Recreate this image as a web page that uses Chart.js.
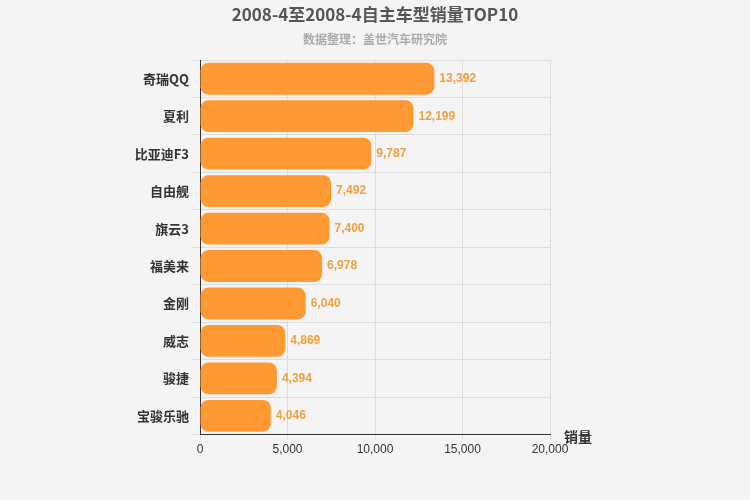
<!DOCTYPE html>
<html><head><meta charset="utf-8">
<script src="https://cdn.jsdelivr.net/npm/chart.js@4/dist/chart.umd.min.js"></script>
<style>html,body{margin:0;padding:0;background:#f4f4f4;}#wrap{width:750px;height:500px;}</style>
</head><body><div id="wrap"><canvas id="c" width="750" height="500"></canvas></div>
<script>
const categories = ["奇瑞QQ","夏利","比亚迪F3","自由舰","旗云3","福美来","金刚","威志","骏捷","宝骏乐驰"];
const sales = [13392,12199,9787,7492,7400,6978,6040,4869,4394,4046];
const xTicks = [0,5000,10000,15000,20000];
const FONT = "'Noto Sans CJK SC', 'Liberation Sans', sans-serif";
const NFONT = "'Liberation Sans', Arial, sans-serif";
const labelPlugin = {
  id:'lbl',
  afterDatasetsDraw(chart){
    const ctx = chart.ctx;
    const meta = chart.getDatasetMeta(0);
    ctx.save();
    ctx.font = "bold 12px " + NFONT;
    ctx.fillStyle = "#f0a040";
    ctx.textBaseline = "middle";
    meta.data.forEach((b,i)=>{
      ctx.fillText(sales[i].toLocaleString('en-US'), b.x+5, b.y);
    });
    const xs = chart.scales.x;
    ctx.fillStyle = "#333";
    ctx.font = "bold 14px " + FONT;
    ctx.fillText("销量", xs.right+14, xs.top+2);
    ctx.textAlign="center";
    ctx.fillStyle="#555";
    ctx.font="bold 17px " + FONT;
    ctx.fillText("2008-4至2008-4自主车型销量TOP10", 375, 15);
    ctx.fillStyle="#aaa";
    ctx.font="bold 12px " + FONT;
    ctx.fillText("数据整理：盖世汽车研究院", 375, 39);
    ctx.restore();
  }
};
new Chart(document.getElementById('c'), {
  type:'bar',
  data:{labels:categories, datasets:[{data:sales, backgroundColor:'#ff9933', borderRadius:8, borderSkipped:false, barPercentage:0.85, categoryPercentage:1}]},
  options:{
    indexAxis:'y', responsive:false, animation:false, devicePixelRatio:1,
    layout:{padding:{left:0,right:200,top:60,bottom:40}},
    plugins:{legend:{display:false}, tooltip:{enabled:false}},
    scales:{
      x:{min:0,max:20000, afterBuildTicks(ax){ax.ticks=xTicks.map(v=>({value:v}));},
        ticks:{color:'#333',font:{family:NFONT,size:12},callback:v=>v.toLocaleString('en-US')},
        grid:{color:'#ddd',drawTicks:true,tickLength:5}, border:{color:'#333'}},
      y:{afterFit(ax){ax.width=200;}, ticks:{color:'#333',font:{family:FONT,size:13,weight:'bold'}},
        grid:{color:'#ddd',offset:true}, border:{color:'#333'}}
    }
  },
  plugins:[labelPlugin]
});
</script></body></html>
